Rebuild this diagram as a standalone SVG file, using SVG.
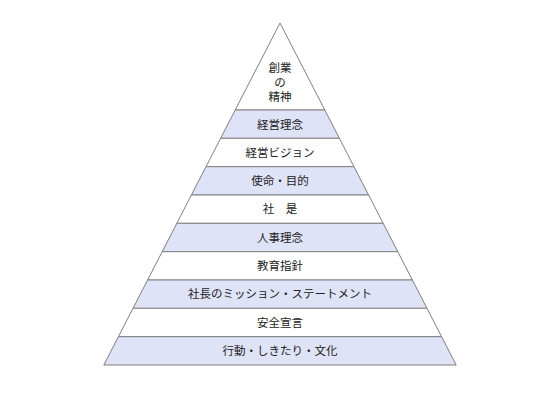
<svg xmlns="http://www.w3.org/2000/svg" width="548" height="407" viewBox="0 0 548 407">
<style>
.b{fill:#dfe3f7;stroke:#808080;stroke-width:1}
.w{fill:#ffffff;stroke:#808080;stroke-width:1}
text{font-family:"Noto Sans CJK JP","Noto Sans",sans-serif;font-size:11.5px;fill:#222;text-anchor:middle}
</style>
<rect width="548" height="407" fill="#fff"/>
<g id="top"><polygon class="w" points="280,23 235.2,110 324.8,110"/><text x="280" y="72">創業</text><text x="280" y="86.5">の</text><text x="280" y="101">精神</text></g>
<g id="n1"><polygon class="b" points="235.2,110 324.8,110 339.4,138.3 220.6,138.3"/><text x="280" y="128.5">経営理念</text></g>
<g id="n2"><polygon class="w" points="220.6,138.3 339.4,138.3 354,166.7 206,166.7"/><text x="280" y="156.8">経営ビジョン</text></g>
<g id="n3"><polygon class="b" points="206,166.7 354,166.7 368.6,195 191.4,195"/><text x="280" y="185.1">使命・目的</text></g>
<g id="n4"><polygon class="w" points="191.4,195 368.6,195 383.2,223.3 176.8,223.3"/><text x="280" y="213.4">社　是</text></g>
<g id="n5"><polygon class="b" points="176.8,223.3 383.2,223.3 397.8,251.7 162.2,251.7"/><text x="280" y="241.8">人事理念</text></g>
<g id="n6"><polygon class="w" points="162.2,251.7 397.8,251.7 412.4,280 147.6,280"/><text x="280" y="270.1">教育指針</text></g>
<g id="n7"><polygon class="b" points="147.6,280 412.4,280 427,308.3 133,308.3"/><text x="280" y="298.4">社長のミッション・ステートメント</text></g>
<g id="n8"><polygon class="w" points="133,308.3 427,308.3 441.6,336.7 118.4,336.7"/><text x="280" y="326.8">安全宣言</text></g>
<g id="n9"><polygon class="b" points="118.4,336.7 441.6,336.7 456.2,365 103.8,365"/><text x="280" y="355.1">行動・しきたり・文化</text></g>
</svg>
